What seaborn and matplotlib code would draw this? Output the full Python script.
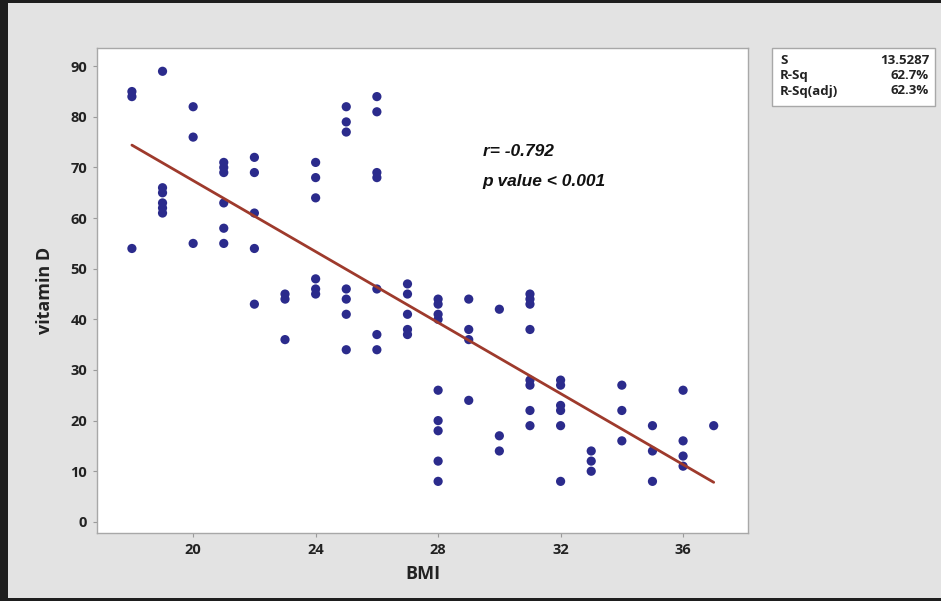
import matplotlib
matplotlib.use("Agg")
import matplotlib.pyplot as plt
from matplotlib.patches import Rectangle
import seaborn as sns
import pandas as pd

# ---- data ----
bmi = ([18] * 3 + [19] * 6 + [20] * 3 + [21] * 6 + [22] * 5 + [23] * 3 +
       [24] * 6 + [25] * 7 + [26] * 7 + [27] * 5 + [28] * 9 + [29] * 4 +
       [30] * 3 + [31] * 8 + [32] * 6 + [33] * 3 + [34] * 3 + [35] * 3 +
       [36] * 4 + [37] * 1)
vitamin_d = [85, 84, 54,
             89, 66, 65, 63, 62, 61,
             82, 76, 55,
             71, 70, 69, 63, 58, 55,
             72, 69, 61, 54, 43,
             45, 44, 36,
             71, 68, 64, 48, 46, 45,
             82, 79, 77, 46, 44, 41, 34,
             84, 81, 69, 68, 46, 37, 34,
             47, 45, 41, 38, 37,
             44, 43, 41, 40, 26, 20, 18, 12, 8,
             44, 38, 36, 24,
             42, 17, 14,
             45, 44, 43, 38, 28, 27, 22, 19,
             28, 27, 23, 22, 19, 8,
             14, 12, 10,
             27, 22, 16,
             19, 14, 8,
             26, 16, 13, 11,
             19]
x_ticks = [20, 24, 28, 32, 36]
y_ticks = [0, 10, 20, 30, 40, 50, 60, 70, 80, 90]
stat_names = ["S", "R-Sq", "R-Sq(adj)"]
stat_values = ["13.5287", "62.7%", "62.3%"]
annot_lines = ["r= -0.792", "p value < 0.001"]

df = pd.DataFrame({"BMI": bmi, "vitamin D": vitamin_d})

sns.set_style("white")
plt.rcParams["font.family"] = ["Open Sans", "DejaVu Sans"]

W, H = 941, 601
fig = plt.figure(figsize=(W / 100, H / 100), dpi=100)
fig.patch.set_facecolor("#e3e3e3")

ax = fig.add_axes([97 / W, 1 - 533 / H, (748 - 97) / W, (533 - 48) / H])
ax.set_facecolor("white")

sns.regplot(data=df, x="BMI", y="vitamin D", ax=ax, ci=None,
            scatter_kws=dict(s=44, color="#2b2b8c", edgecolor="none", alpha=1),
            line_kws=dict(color="#9e3a2c", lw=2))

ax.set_xlim(16.86, 38.12)
ax.set_ylim(-2.2, 93.6)
ax.set_xticks(x_ticks)
ax.set_yticks(y_ticks)
ax.tick_params(axis="both", direction="out", length=3, width=0.8,
               color="#9a9a9a", labelsize=10.5, labelcolor="#222222", pad=4)
ax.tick_params(axis="both", bottom=True, left=True)
for lab in ax.get_xticklabels() + ax.get_yticklabels():
    lab.set_fontweight("bold")
for sp in ax.spines.values():
    sp.set_color("#a8a8a8")
    sp.set_linewidth(1)
    sp.set_visible(True)

ax.set_xlabel("BMI", fontsize=13, fontweight="bold", color="#222222", labelpad=6)
ax.set_ylabel("vitamin D", fontsize=13, fontweight="bold", color="#222222", labelpad=12)

ax.text(29.45, 73.2, annot_lines[0], fontsize=12.5, fontweight="bold",
        fontstyle="italic", va="center", ha="left", color="#111111",
        family=["Liberation Sans", "DejaVu Sans"])
ax.text(29.45, 67.3, annot_lines[1], fontsize=12.5, fontweight="bold",
        fontstyle="italic", va="center", ha="left", color="#111111",
        family=["Liberation Sans", "DejaVu Sans"])

# statistics box
bx0, by0, bx1, by1 = 772, 48, 935, 106
fig.patches.append(Rectangle((bx0 / W, 1 - by1 / H), (bx1 - bx0) / W,
                             (by1 - by0) / H, transform=fig.transFigure,
                             facecolor="white", edgecolor="#a8a8a8", lw=1))
for i, (n, v) in enumerate(zip(stat_names, stat_values)):
    yy = 1 - (60 + i * 15.5) / H
    fig.text(780 / W, yy, n, fontsize=9.5, fontweight="bold", va="center",
             ha="left", color="#222222")
    fig.text(929 / W, yy, v, fontsize=9.5, fontweight="bold", va="center",
             ha="right", color="#222222")

# dark frame edges
for (x0, y0, w, h) in [(0, 0, 8, H), (0, 0, W, 3), (0, H - 3, W, 3)]:
    fig.patches.append(Rectangle((x0 / W, 1 - (y0 + h) / H), w / W, h / H,
                                 transform=fig.transFigure,
                                 facecolor="#1e1e1e", edgecolor="none"))

fig.savefig("out.png", dpi=100, facecolor=fig.get_facecolor())
